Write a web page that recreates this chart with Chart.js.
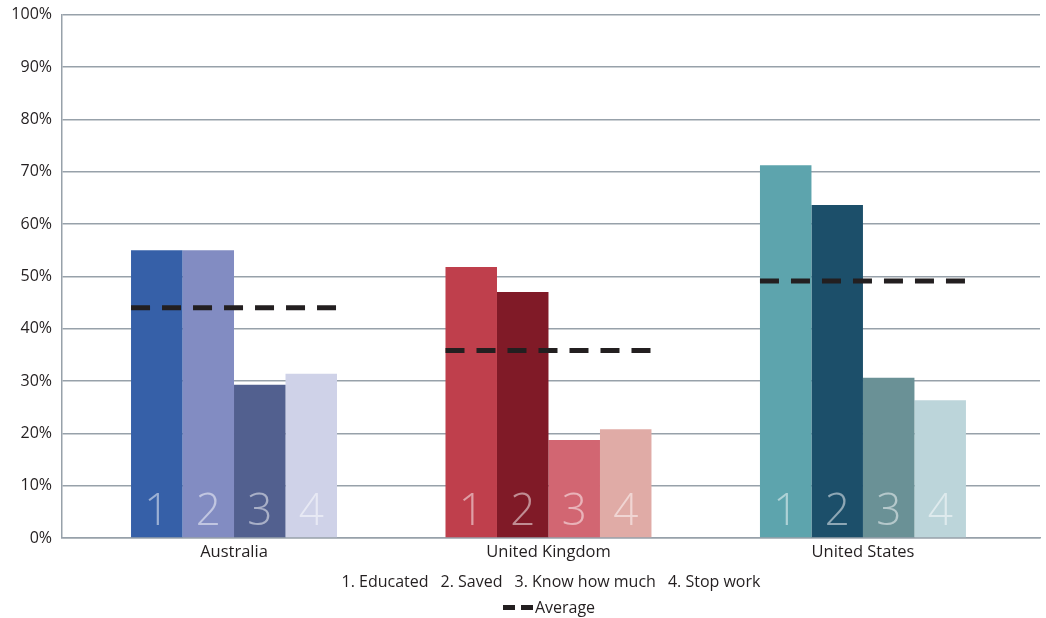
<!DOCTYPE html>
<html>
<head>
<meta charset="utf-8">
<script src="https://cdn.jsdelivr.net/npm/chart.js@4"></script>
<style>
  body { margin: 0; background: #fff; overflow: hidden; }
  #wrap { position: relative; width: 1046px; height: 618px; overflow: hidden; }
  #chart { position: absolute; left: 0; top: -5px; }
  #legend { position: absolute; left: 62px; width: 978px; top: 568px; text-align: center;
    font-family: "Open Sans", sans-serif; font-size: 16px; color: #231f20; line-height: 26px; }
  #legend span.item { margin: 0 6px; }
  .dash { display: inline-block; width: 12px; height: 5px; background: #231f20; vertical-align: middle; margin-right: 6px; position: relative; top: -1px; }
  .dash + .dash { margin-right: 2px; }
  .avg { padding-right: 4px; }
</style>
</head>
<body>
<div id="wrap">
  <canvas id="chart" width="1046" height="618"></canvas>
  <div id="legend">
    <div><span class="item">1. Educated</span><span class="item">2. Saved</span><span class="item">3. Know how much</span><span class="item">4. Stop work</span></div>
    <div class="avg"><span class="dash"></span><span class="dash"></span>Average</div>
  </div>
</div>
<script>
const countries = ["Australia", "United Kingdom", "United States"];
const seriesNames = ["1. Educated", "2. Saved", "3. Know how much", "4. Stop work"];

const educated = [55.0, 51.8, 71.2];
const saved = [55.0, 47.0, 63.6];
const knowHowMuch = [29.3, 18.7, 30.6];
const stopWork = [31.4, 20.8, 26.3];
const averages = [44.0, 35.8, 49.1];

const yTicks = [0, 10, 20, 30, 40, 50, 60, 70, 80, 90, 100];

// colours per country for each series
const colors = [
  ["#3660a8", "#bf3f4c", "#5da4ad"],
  ["#828cc2", "#801a27", "#1c4f6a"],
  ["#52608f", "#d26672", "#6a9196"],
  ["#cfd2e8", "#e0aba6", "#bcd5da"],
];

const allSeries = [educated, saved, knowHowMuch, stopWork];

const datasets = allSeries.map((vals, k) => ({
  label: seriesNames[k],
  data: vals.map((v, i) => ({ x: i, y: v })),
  backgroundColor: colors[k],
  borderWidth: 0,
  categoryPercentage: 0.655,
  barPercentage: 1.0,
}));

// big faded numbers inside bars + dashed average line per group
const overlayPlugin = {
  id: "overlay",
  afterDatasetsDraw(chart) {
    const ctx = chart.ctx;
    const yScale = chart.scales.y;
    const bottom = yScale.getPixelForValue(0);
    ctx.save();
    ctx.font = '300 44px "Open Sans", sans-serif';
    ctx.fillStyle = "rgba(255,255,255,0.5)";
    ctx.textAlign = "center";
    ctx.textBaseline = "alphabetic";
    chart.data.datasets.forEach((ds, k) => {
      chart.getDatasetMeta(k).data.forEach((bar) => {
        ctx.fillText(String(k + 1), bar.x, bottom - 13);
      });
    });

    ctx.strokeStyle = "#231f20";
    ctx.lineWidth = 5;
    ctx.setLineDash([19, 12]);
    const first = chart.getDatasetMeta(0).data;
    const last = chart.getDatasetMeta(chart.data.datasets.length - 1).data;
    averages.forEach((avg, i) => {
      const y = yScale.getPixelForValue(avg);
      const x0 = first[i].x - first[i].width / 2;
      const x1 = last[i].x + last[i].width / 2;
      ctx.beginPath();
      ctx.moveTo(x0, y);
      ctx.lineTo(x1, y);
      ctx.stroke();
    });
    ctx.restore();
  },
};

new Chart(document.getElementById("chart"), {
  type: "bar",
  data: { datasets: datasets },
  options: {
    responsive: false,
    animation: false,
    layout: { padding: { top: 8, right: 6, bottom: 50, left: 0 } },
    plugins: {
      legend: { display: false },
      tooltip: { enabled: false },
    },
    scales: {
      x: {
        type: "linear",
        offset: false,
        min: -0.547,
        max: 2.563,
        grid: { display: false },
        border: { color: "#97a1aa", width: 1.5 },
        afterFit: (s) => { s.height = 25; },
        ticks: {
          stepSize: 1,
          includeBounds: false,
          autoSkip: false,
          maxRotation: 0,
          padding: -4,
          color: "#231f20",
          font: { family: '"Open Sans", sans-serif', size: 16.5 },
          callback: (v) => countries[v] ?? "",
        },
      },
      y: {
        min: 0,
        max: 100,
        afterFit: (s) => { s.width = 62; },
        afterBuildTicks: (s) => { s.ticks = yTicks.map((v) => ({ value: v })); },
        grid: { color: "#97a1aa", lineWidth: 1.5, drawTicks: false },
        border: { color: "#97a1aa", width: 1.5 },
        ticks: {
          padding: 10,
          color: "#231f20",
          font: { family: '"Open Sans", sans-serif', size: 16 },
          callback: (v) => v + "%",
        },
      },
    },
  },
  plugins: [overlayPlugin],
});
</script>
</body>
</html>
